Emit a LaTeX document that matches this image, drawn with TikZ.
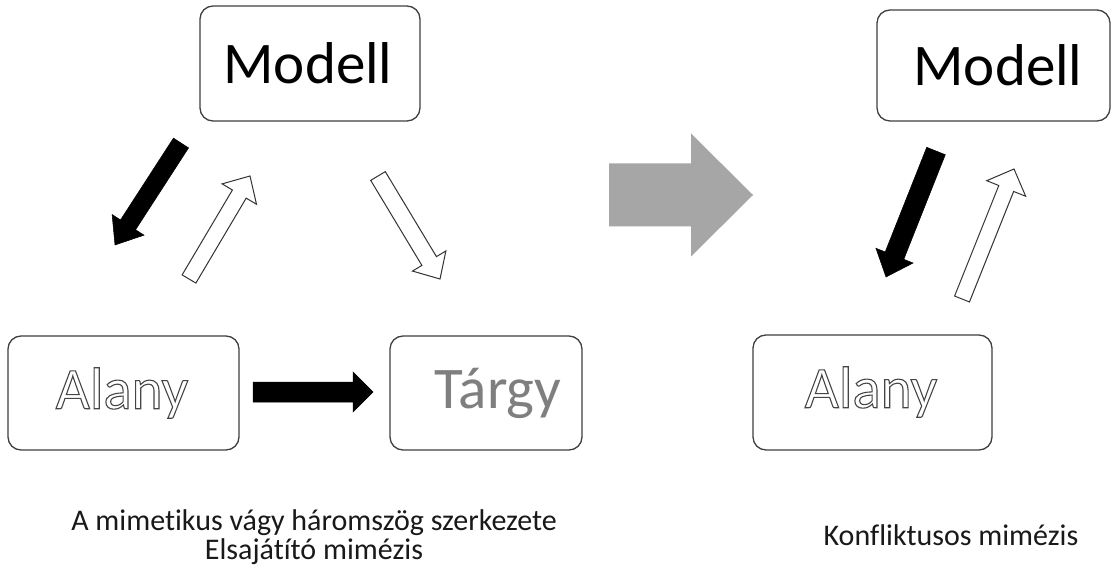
\documentclass[tikz,border=0pt]{standalone}
\usepackage{fontspec}
\setmainfont[Ligatures={NoCommon}]{Carlito}
\usetikzlibrary{calc}
\definecolor{boxline}{HTML}{404040}
\definecolor{bigarrow}{HTML}{A6A6A6}
\definecolor{targy}{HTML}{7F7F7F}
\definecolor{outl}{HTML}{454545}
\tikzset{
  box/.style={draw=boxline, line width=1.3pt, rounded corners=13pt, inner sep=0pt},
  bigtext/.style={font=\fontsize{59}{62}\selectfont, inner sep=0pt},
  outlinetext/.style={bigtext, text=outl},
  capt/.style={font=\fontsize{30}{29.5}\selectfont, align=center, text=black!90},
  blackarrow/.style={fill=black, draw=black, line width=0.5pt, line join=miter},
  whitearrow/.style={fill=white, draw=black!80, line width=1pt, line join=miter},
  grayarrow/.style={fill=bigarrow, draw=none},
}
\newcommand\hollow[1]{\special{pdf:literal direct 1 Tr 1.1 w}#1\special{pdf:literal direct 0 Tr}}
% #1 name prefix, #2 style, #3 tail, #4 tip, #5 shaft half width, #6 head half width, #7 head length
\newcommand\blockarr[7]{%
  \coordinate (#1t) at #3;
  \coordinate (#1p) at #4;
  \coordinate (#1h) at ($(#1p)!#7!(#1t)$);
  \path[#2] ($(#1t)!#5!90:(#1p)$) -- ($(#1h)!#5!90:(#1p)$) -- ($(#1h)!#6!90:(#1p)$)
    -- (#1p) -- ($(#1h)!#6!-90:(#1p)$) -- ($(#1h)!#5!-90:(#1p)$) -- ($(#1t)!#5!-90:(#1p)$) -- cycle;
}
\begin{document}
\begin{tikzpicture}[x=1pt,y=-1pt]
\useasboundingbox[fill=white] (0,0) rectangle (1116,569);

% boxes
\node[box, minimum width=220pt, minimum height=115pt] (m1) at (310,63.5) {};
\node[bigtext] (m1txt) at (308,63) {Modell};
\node[box, minimum width=231pt, minimum height=114pt] (a1) at (123.5,393) {};
\node[outlinetext] (a1txt) at (122,393) {\hollow{Alany}};
\node[box, minimum width=192pt, minimum height=114pt] (t1) at (486,393) {};
\node[bigtext, text=targy] (t1txt) at (498,393) {Tárgy};

\node[box, minimum width=233pt, minimum height=111pt] (m2) at (993.5,65.5) {};
\node[bigtext] (m2txt) at (998,65) {Modell};
\node[box, minimum width=239pt, minimum height=115pt] (a2) at (872.5,392.5) {};
\node[outlinetext] (a2txt) at (871,392) {\hollow{Alany}};

% arrows left
\blockarr{k1}{blackarrow}{(181,143)}{(115,245)}{9pt}{19pt}{24pt}
\blockarr{w1}{whitearrow}{(189,279)}{(250,176)}{8pt}{20pt}{21pt}
\blockarr{w2}{whitearrow}{(378,176)}{(440,279)}{8.5pt}{19.5pt}{21pt}
\blockarr{k2}{blackarrow}{(253,392)}{(373,392)}{10pt}{20pt}{20pt}

% big gray arrow
\blockarr{g}{grayarrow}{(609,195)}{(753,195)}{31.5pt}{61.5pt}{62pt}

% arrows right
\blockarr{k3}{blackarrow}{(936,151)}{(886,277)}{10pt}{20pt}{23pt}
\blockarr{w3}{whitearrow}{(962,299)}{(1014,169)}{8pt}{21pt}{21pt}

% captions
\node[capt] (c1) at (314,537) {A mimetikus vágy háromszög szerkezete\\Elsajátító mimézis};
\node[capt] (c2) at (951,535) {Konfliktusos mimézis};
\end{tikzpicture}
\end{document}
